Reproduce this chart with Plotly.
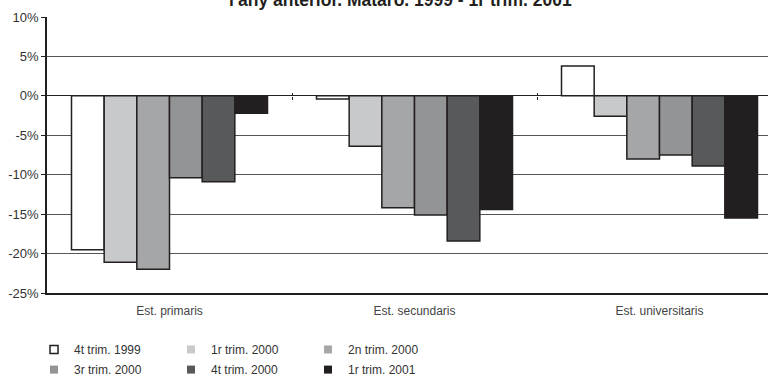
import plotly.graph_objects as go

categories = ["Est. primaris", "Est. secundaris", "Est. universitaris"]
series_names = ["4t trim. 1999", "1r trim. 2000", "2n trim. 2000",
                "3r trim. 2000", "4t trim. 2000", "1r trim. 2001"]
v_4t1999 = [-19.5, -0.4, 3.8]
v_1r2000 = [-21.1, -6.4, -2.6]
v_2n2000 = [-22.0, -14.2, -8.0]
v_3r2000 = [-10.4, -15.1, -7.5]
v_4t2000 = [-10.9, -18.4, -8.9]
v_1r2001 = [-2.2, -14.4, -15.5]
series_values = [v_4t1999, v_1r2000, v_2n2000, v_3r2000, v_4t2000, v_1r2001]
colors = ["#ffffff", "#c8c9cb", "#a5a6a8", "#939495", "#58595b", "#231f20"]
y_ticks = [10, 5, 0, -5, -10, -15, -20, -25]
y_tick_labels = ["10%", "5%", "0%", "-5%", "-10%", "-15%", "-20%", "-25%"]
title_text = "l'any anterior. Mataró. 1999 - 1r trim. 2001"

DARK = "#231f20"
FONT = "Liberation Sans, Arial, sans-serif"

fig = go.Figure()
for name, vals, col in zip(series_names, series_values, colors):
    fig.add_trace(go.Bar(
        x=categories, y=vals, name=name, showlegend=False,
        marker=dict(color=col, line=dict(color=DARK, width=1.5)),
    ))

for i, (name, col) in enumerate(zip(series_names, colors)):
    fig.add_trace(go.Scatter(
        x=[None], y=[None], mode="markers", name=name,
        marker=dict(symbol="square", size=8, color=col,
                    line=dict(color=DARK if i == 0 else col, width=1.5 if i == 0 else 0)),
        legend="legend" if i < 3 else "legend2",
    ))

# category boundary ticks on the zero line
fig.add_trace(go.Scatter(x=[None], y=[None], xaxis="x2", showlegend=False))
fig.add_trace(go.Scatter(x=[None], y=[None], xaxis="x3", showlegend=False))

n = len(categories)
x_range = [-0.5, -0.5 + 721 / 245]
y_range = [min(y_ticks), max(y_ticks)]
zero_pos = (0 - y_range[0]) / (y_range[1] - y_range[0])
boundaries = [i + 0.5 for i in range(n - 1)]

legend_common = dict(
    orientation="h", x=-0.018, xanchor="left", yanchor="top",
    entrywidth=92, entrywidthmode="pixels",
    font=dict(size=12, color="#333333"), itemwidth=30,
    bgcolor="rgba(0,0,0,0)", tracegroupgap=0,
)

fig.update_layout(
    width=768, height=383,
    margin=dict(l=47, r=0, t=17, b=90, autoexpand=False),
    paper_bgcolor="white", plot_bgcolor="white",
    barmode="group", bargap=0.2, bargroupgap=0,
    font=dict(family=FONT, size=12, color="#333333"),
    xaxis=dict(
        type="category", range=x_range, showgrid=False, automargin=False,
        showline=True, linecolor=DARK, linewidth=2, ticks="",
        tickfont=dict(size=12, color="#444444"), ticklabelstandoff=6,
    ),
    xaxis2=dict(
        overlaying="x", anchor="free", position=zero_pos, range=x_range,
        tickmode="array", tickvals=boundaries, ticks="outside", ticklen=3,
        tickcolor=DARK, tickwidth=1, showticklabels=False, showgrid=False,
        showline=False, zeroline=False,
    ),
    xaxis3=dict(
        overlaying="x", anchor="free", position=zero_pos, range=x_range,
        tickmode="array", tickvals=boundaries, ticks="inside", ticklen=3,
        tickcolor=DARK, tickwidth=1, showticklabels=False, showgrid=False,
        showline=False, zeroline=False,
    ),
    yaxis=dict(
        range=y_range, tickmode="array", tickvals=y_ticks, ticktext=y_tick_labels,
        showgrid=True, gridcolor="#555555", gridwidth=1, automargin=False,
        zeroline=True, zerolinecolor=DARK, zerolinewidth=1,
        showline=True, linecolor=DARK, linewidth=1.5,
        ticks="outside", ticklen=4, tickcolor=DARK,
        tickfont=dict(size=13, color="#333333"),
    ),
    legend=dict(y=-0.152, **legend_common),
    legend2=dict(y=-0.225, **legend_common),
    annotations=[dict(
        text=title_text, xref="paper", yref="paper", x=0.49, y=1,
        xanchor="center", yanchor="middle", yshift=17, showarrow=False,
        font=dict(family=FONT, size=17.5, color=DARK, weight="bold"),
    )],
)

fig.write_html(
    "out.html",
    config={"displayModeBar": False},
    post_script="document.body.style.margin='0';document.body.style.overflow='hidden';",
)
